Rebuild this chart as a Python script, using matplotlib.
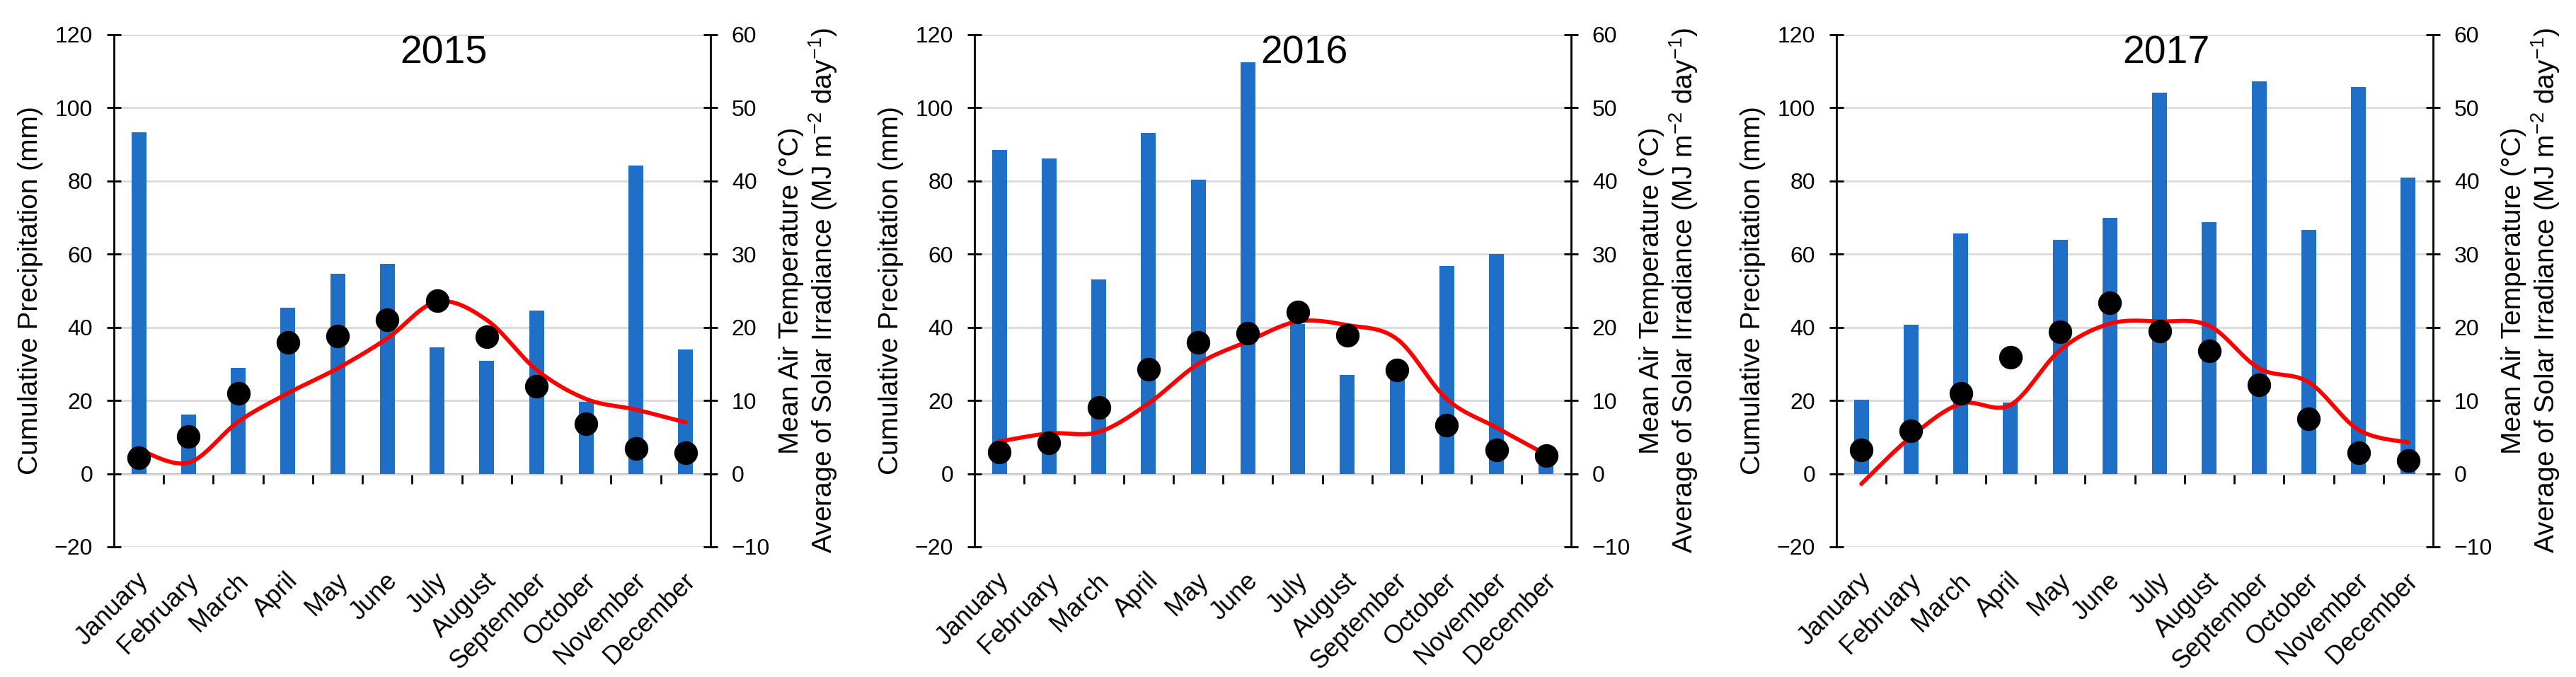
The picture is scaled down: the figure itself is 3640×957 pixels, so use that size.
import numpy as np
import matplotlib
matplotlib.use("Agg")
import matplotlib.pyplot as plt
from matplotlib import transforms

plt.rcParams['font.family'] = ['Liberation Sans', 'DejaVu Sans']
plt.rcParams['mathtext.fontset'] = 'custom'
plt.rcParams['mathtext.rm'] = 'Liberation Sans'
plt.rcParams['mathtext.it'] = 'Liberation Sans:italic'
plt.rcParams['mathtext.default'] = 'regular'

months = ["January", "February", "March", "April", "May", "June", "July",
          "August", "September", "October", "November", "December"]
years = ["2015", "2016", "2017"]

# Cumulative precipitation (mm), left axis
precip_2015 = [93.3, 16.1, 29.0, 45.3, 54.6, 57.4, 34.5, 30.8, 44.6, 19.7, 84.3, 34.0]
precip_2016 = [88.4, 86.2, 53.0, 93.1, 80.4, 112.5, 41.0, 27.0, 29.0, 56.8, 60.0, 4.5]
precip_2017 = [20.3, 40.8, 65.6, 19.5, 64.0, 69.9, 104.2, 68.7, 107.3, 66.7, 105.7, 81.0]

# Mean air temperature (°C), right axis, black dots
temp_2015 = [2.2, 5.1, 11.0, 17.9, 18.8, 21.0, 23.6, 18.7, 11.9, 6.8, 3.4, 2.9]
temp_2016 = [2.96, 4.25, 9.07, 14.3, 17.9, 19.2, 22.1, 18.9, 14.2, 6.66, 3.28, 2.48]
temp_2017 = [3.2, 5.9, 11.0, 15.9, 19.4, 23.4, 19.5, 16.8, 12.1, 7.5, 2.85, 1.8]

# Average solar irradiance (MJ m-2 day-1), right axis, red smoothed line
irr_2015 = [3.3, 1.5, 7.1, 11.0, 14.4, 18.5, 23.5, 21.0, 14.2, 10.2, 8.75, 7.0]
irr_2016 = [4.4, 5.5, 5.7, 9.6, 15.0, 18.1, 20.8, 20.3, 18.4, 10.2, 6.3, 2.6]
irr_2017 = [-1.4, 5.05, 9.55, 9.4, 16.9, 20.5, 20.8, 20.2, 14.4, 12.5, 6.0, 4.25]

precip = [precip_2015, precip_2016, precip_2017]
temps = [temp_2015, temp_2016, temp_2017]
irrs = [irr_2015, irr_2016, irr_2017]

BLUE = "#1F6FC6"
GRID = "#D9D9D9"

W, H = 3641, 957
fig = plt.figure(figsize=(W / 100, H / 100), dpi=100)


def smooth_curve(x, y, n=30):
    """Excel-like smoothed line: cubic Bezier segments with Catmull-Rom tangents."""
    x = np.asarray(x, float)
    y = np.asarray(y, float)
    px = np.concatenate([[x[0]], x, [x[-1]]])
    py = np.concatenate([[y[0]], y, [y[-1]]])
    xs, ys = [], []
    t = np.linspace(0, 1, n)
    for i in range(1, len(px) - 2):
        p0 = np.array([px[i], py[i]])
        p3 = np.array([px[i + 1], py[i + 1]])
        c1 = p0 + (np.array([px[i + 1], py[i + 1]]) - np.array([px[i - 1], py[i - 1]])) / 6.0
        c2 = p3 - (np.array([px[i + 2], py[i + 2]]) - np.array([px[i], py[i]])) / 6.0
        b = ((1 - t) ** 3)[:, None] * p0 + (3 * (1 - t) ** 2 * t)[:, None] * c1 \
            + (3 * (1 - t) * t ** 2)[:, None] * c2 + (t ** 3)[:, None] * p3
        xs.append(b[:, 0])
        ys.append(b[:, 1])
    return np.concatenate(xs), np.concatenate(ys)


lefts_px = [161, 1377, 2595]
ax_w_px = 843
top_px, bot_px = 49, 773
x = np.arange(12)
LW = 2.0

for k in range(3):
    l = lefts_px[k] / W
    b = (H - bot_px) / H
    w = ax_w_px / W
    h = (bot_px - top_px) / H
    ax = fig.add_axes([l, b, w, h])
    ax.bar(x, precip[k], width=0.30, color=BLUE, zorder=2)
    ax.set_xlim(-0.5, 11.5)
    ax.set_ylim(-20, 120)
    ax.set_yticks(np.arange(-20, 121, 20))
    ax.grid(axis='y', color=GRID, lw=2)
    ax.set_axisbelow(True)
    for s in ['top', 'bottom', 'right']:
        ax.spines[s].set_visible(False)
    ax.spines['left'].set_linewidth(LW)
    ax.spines['left'].set_color('black')
    ax.tick_params(axis='y', direction='inout', length=15, width=LW,
                   pad=14, labelsize=23)
    ax.set_xticks(x)
    ax.set_xticklabels(months, rotation=45, ha='right', rotation_mode='anchor',
                       fontsize=26)
    ax.tick_params(axis='x', length=0, pad=22)
    off = transforms.ScaledTranslation(-4 / 100, 0, fig.dpi_scale_trans)
    for lab in ax.get_xticklabels():
        lab.set_transform(lab.get_transform() + off)

    # zero line with category-boundary ticks
    sec = ax.secondary_xaxis(20 / 140)
    sec.set_xticks(np.arange(0.5, 11, 1))
    sec.tick_params(direction='out', length=10, width=LW, labelbottom=False)
    sec.spines['bottom'].set_linewidth(LW)

    ax2 = ax.twinx()
    ax2.set_ylim(-10, 60)
    ax2.set_yticks(np.arange(-10, 61, 10))
    for s in ['top', 'bottom', 'left']:
        ax2.spines[s].set_visible(False)
    ax2.spines['right'].set_linewidth(LW)
    ax2.tick_params(axis='y', direction='inout', length=15, width=LW,
                    pad=14, labelsize=23)
    sx, sy = smooth_curve(x, irrs[k])
    ax2.plot(sx, sy, color='#FF0000', lw=4.2, zorder=3, solid_capstyle='round')
    ax2.plot(x, temps[k], 'o', color='black', markersize=23, zorder=4)

    ax.text(0.553, 0.964, years[k], transform=ax.transAxes, ha='center',
            va='center', fontsize=40)

    cy = 1 - ((top_px + bot_px) / 2) / H
    fig.text((lefts_px[k] - 118) / W, cy, "Cumulative Precipitation (mm)",
             rotation=90, ha='center', va='center', fontsize=28)
    fig.text((lefts_px[k] + ax_w_px + 139) / W, cy,
             "Mean Air Temperature (°C)\nAverage of Solar Irradiance (MJ m$^{-2}$ day$^{-1}$)",
             rotation=90, ha='center', va='center', fontsize=28,
             multialignment='center', linespacing=1.1)

fig.savefig("out.png", dpi=100, facecolor='white')
